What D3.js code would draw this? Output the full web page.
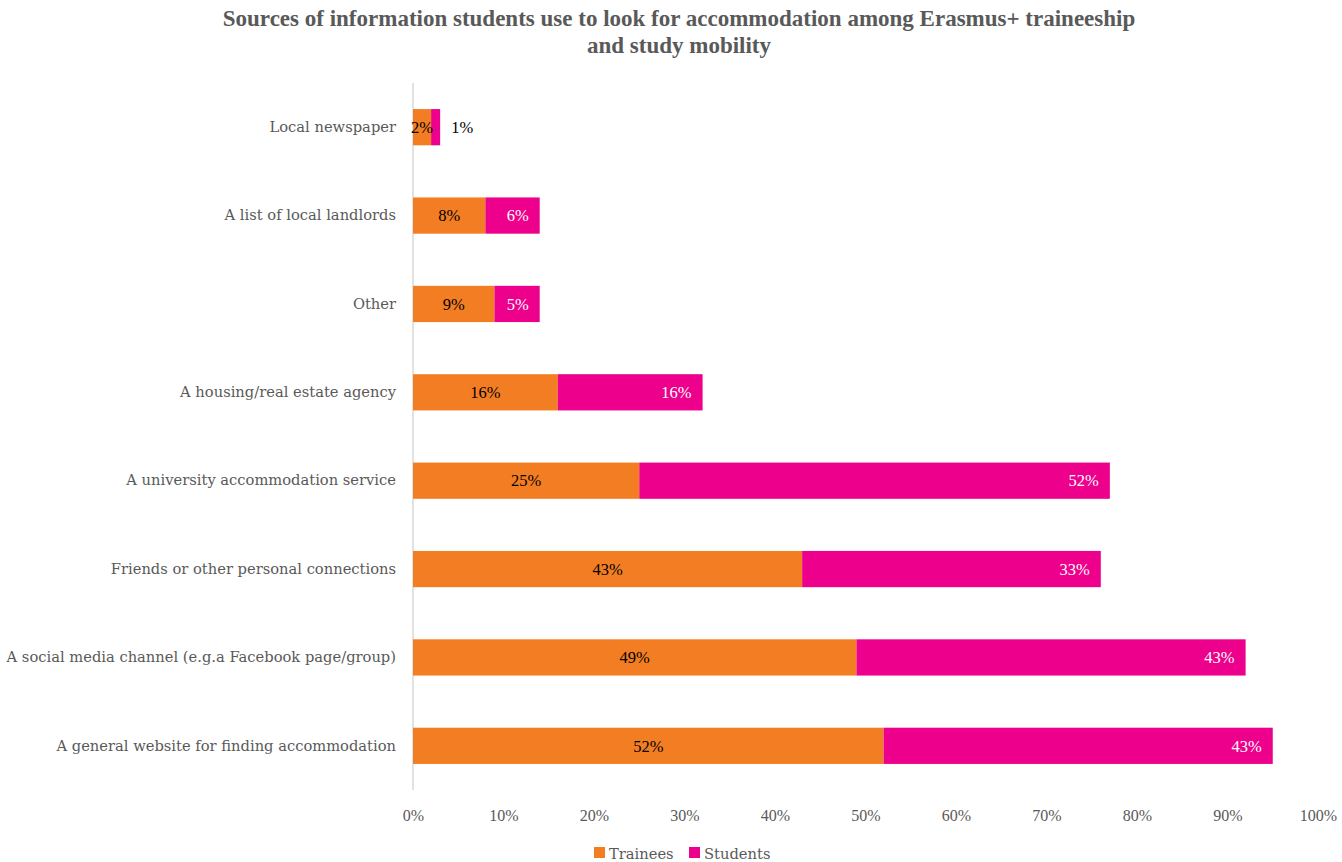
<!DOCTYPE html>
<html><head><meta charset="utf-8">
<script src="https://cdn.jsdelivr.net/npm/d3@7"></script>
<style>body{margin:0;background:#fff}svg{display:block}</style>
</head><body>
<script>
const categories = ["Local newspaper","A list of local landlords","Other","A housing/real estate agency","A university accommodation service","Friends or other personal connections","A social media channel (e.g.a Facebook page/group)","A general website for finding accommodation"];
const trainees = [2,8,9,16,25,43,49,52];
const students = [1,6,5,16,52,33,43,43];
const xTicks = [0,10,20,30,40,50,60,70,80,90,100];
const seriesNames = ["Trainees","Students"];
const colors = ["#F37D22","#EC008C"];

const W=1342,H=862;
const font="'Liberation Serif', serif";
const wfont="'DejaVu Serif', serif";
const svg=d3.select("body").append("svg").attr("width",W).attr("height",H);
const x=d3.scaleLinear().domain([0,100]).range([413,1318]);
const y=d3.scaleBand().domain(categories).range([83,790]).paddingInner(0.59).paddingOuter(0.295);

svg.append("text").attr("x",679).attr("y",26).attr("text-anchor","middle").attr("font-family",font).attr("font-weight","bold").attr("font-size",23).attr("fill","#595959").text("Sources of information students use to look for accommodation among Erasmus+ traineeship");
svg.append("text").attr("x",679).attr("y",53).attr("text-anchor","middle").attr("font-family",font).attr("font-weight","bold").attr("font-size",23).attr("fill","#595959").text("and study mobility");

svg.append("line").attr("x1",x(0)).attr("x2",x(0)).attr("y1",83).attr("y2",790).attr("stroke","#d9d9d9").attr("stroke-width",1.5);

const xAxis=d3.axisBottom(x).tickValues(xTicks).tickFormat(d=>d+"%").tickSize(0).tickPadding(0);
const gx=svg.append("g").attr("transform","translate(0,821)").call(xAxis);
gx.select(".domain").remove();
gx.selectAll("text").attr("font-family",font).attr("font-size",16).attr("fill","#595959").attr("dy",0);

const yAxis=d3.axisLeft(y).tickSize(0).tickPadding(17);
const gy=svg.append("g").attr("transform",`translate(${x(0)},0)`).call(yAxis);
gy.select(".domain").remove();
gy.selectAll("text").attr("font-family",wfont).attr("font-size",14.7).attr("fill","#595959");

const rows=categories.map((c,i)=>({c,t:trainees[i],s:students[i]}));
const g=svg.append("g");
g.selectAll(".rt").data(rows).join("rect").attr("x",x(0)).attr("y",d=>y(d.c)).attr("width",d=>x(d.t)-x(0)).attr("height",y.bandwidth()).attr("fill",colors[0]);
g.selectAll(".rs").data(rows).join("rect").attr("x",d=>x(d.t)).attr("y",d=>y(d.c)).attr("width",d=>x(d.t+d.s)-x(d.t)).attr("height",y.bandwidth()).attr("fill",colors[1]);
g.selectAll(".lt").data(rows).join("text").attr("x",d=>(x(0)+x(d.t))/2).attr("y",d=>y(d.c)+y.bandwidth()/2).attr("dy","0.35em").attr("text-anchor","middle").attr("font-family",font).attr("font-size",16.5).attr("fill","#000").text(d=>d.t+"%");
const small=d=>(x(d.t+d.s)-x(d.t))<30;
g.selectAll(".ls").data(rows).join("text")
 .attr("x",d=>small(d)? x(d.t+d.s)+11 : x(d.t+d.s)-11)
 .attr("y",d=>y(d.c)+y.bandwidth()/2).attr("dy","0.35em")
 .attr("text-anchor",d=>small(d)?"start":"end")
 .attr("font-family",font).attr("font-size",16.5)
 .attr("fill",d=>small(d)?"#000":"#fff").text(d=>d.s+"%");

const lg=svg.append("g").attr("transform","translate(594,847)");
seriesNames.forEach((n,i)=>{
  const off=i===0?0:95;
  lg.append("rect").attr("x",off).attr("y",0).attr("width",11).attr("height",11).attr("fill",colors[i]);
  lg.append("text").attr("x",off+15).attr("y",12).attr("font-family",wfont).attr("font-size",14.7).attr("fill","#595959").text(n);
});
</script>
</body></html>
